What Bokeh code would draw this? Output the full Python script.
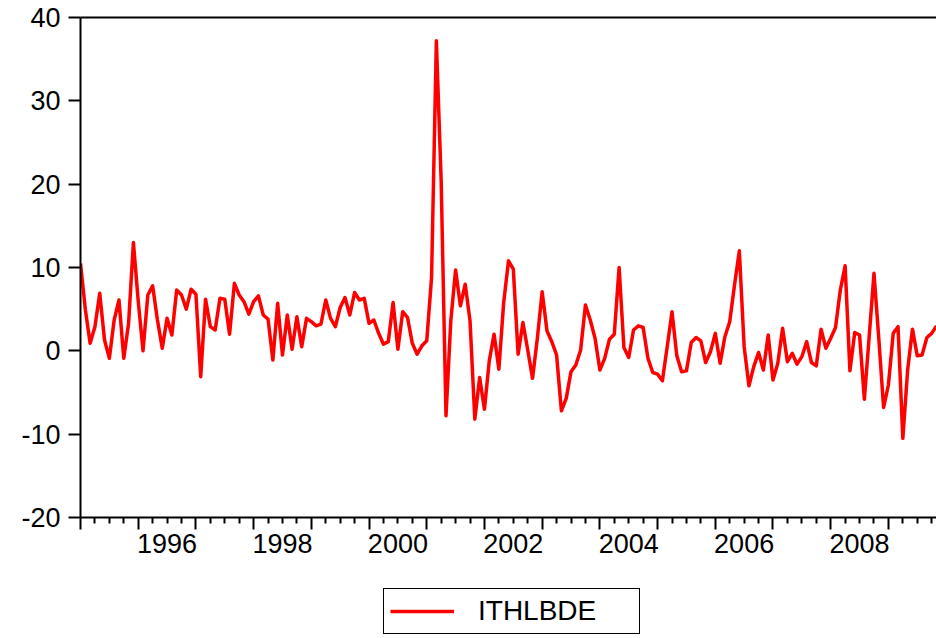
from bokeh.plotting import figure
from bokeh.layouts import column
from bokeh.models import FixedTicker, LinearAxis, Legend, LegendItem, Range1d, ColumnDataSource
from bokeh.embed import file_html
from bokeh.resources import INLINE

# ---- data (monthly, starting January 1995) ----
series_name = "ITHLBDE"
start_year = 1995
values = [
    10.5, 5.0, 0.9, 2.9, 6.9, 1.3, -0.9, 3.7, 6.1, -0.9, 3.3, 13.0,
    6.0, 0.0, 6.7, 7.8, 3.7, 0.3, 3.9, 1.9, 7.3, 6.7, 5.0, 7.4,
    6.8, -3.1, 6.2, 2.9, 2.5, 6.3, 6.2, 2.0, 8.1, 6.7, 5.9, 4.4,
    5.9, 6.6, 4.3, 3.8, -1.1, 5.7, -0.5, 4.3, 0.2, 4.1, 0.5, 3.9,
    3.5, 3.0, 3.2, 6.1, 3.9, 2.9, 5.2, 6.4, 4.3, 7.0, 6.1, 6.3,
    3.3, 3.7, 2.1, 0.8, 1.1, 5.8, 0.2, 4.7, 4.0, 0.9, -0.4, 0.6,
    1.2, 8.8, 37.2, 20.4, -7.8, 3.6, 9.7, 5.4, 8.0, 3.6, -8.2, -3.2,
    -7.0, -1.2, 2.0, -2.2, 5.8, 10.8, 9.8, -0.4, 3.4, 0.1, -3.3, 1.5,
    7.1, 2.4, 1.1, -0.5, -7.2, -5.7, -2.5, -1.7, 0.1, 5.5, 3.7, 1.5,
    -2.3, -0.9, 1.4, 2.0, 10.0, 0.4, -0.8, 2.5, 3.0, 2.8, -0.9, -2.6,
    -2.8, -3.6, 0.5, 4.7, -0.6, -2.5, -2.4, 1.0, 1.6, 1.2, -1.4, -0.1,
    2.1, -1.5, 1.7, 3.5, 7.9, 12.0, 0.5, -4.2, -1.9, -0.2, -2.3, 1.9,
    -3.5, -1.5, 2.7, -1.3, -0.3, -1.6, -0.7, 1.1, -1.4, -1.8, 2.6, 0.3,
    1.5, 2.8, 7.3, 10.2, -2.4, 2.2, 1.9, -5.8, 1.7, 9.3, 1.5, -6.8,
    -4.1, 2.1, 2.9, -10.5, -2.3, 2.6, -0.6, -0.5, 1.6, 2.1, 3.0,
]
tick_years = list(range(1995, 2010))
label_years = [1996, 1998, 2000, 2002, 2004, 2006, 2008]
year_labels = ["1996", "1998", "2000", "2002", "2004", "2006", "2008"]
y_ticks = [-20, -10, 0, 10, 20, 30, 40]
y_labels = ["-20", "-10", "0", "10", "20", "30", "40"]

t = [start_year + i / 12 for i in range(len(values))]
src = ColumnDataSource(dict(t=t, v=values))

FONT = "Liberation Sans"
LINE = dict(line_color="#FF0000", line_width=3.5, line_join="round")

p = figure(frame_width=856, frame_height=500, output_backend="svg", toolbar_location=None,
           x_range=Range1d(t[0], t[-1]), y_range=Range1d(-20, 40),
           min_border_left=80, min_border_right=0, min_border_top=17, min_border_bottom=60,
           background_fill_color="white", border_fill_color="white",
           outline_line_color=None)
p.grid.visible = False

r = p.line("t", "v", source=src, **LINE)

# y axis
ya = p.yaxis[0]
ya.ticker = FixedTicker(ticks=y_ticks)
ya.major_label_overrides = {float(k): s for k, s in zip(y_ticks, y_labels)}
ya.major_tick_out = 12
ya.major_tick_in = 0
ya.minor_tick_out = 0
ya.minor_tick_in = 0
ya.axis_line_width = 2
ya.major_tick_line_width = 2
ya.major_label_standoff = 8
ya.major_label_text_font = FONT
ya.major_label_text_font_size = "27px"
ya.major_label_text_color = "black"

# x axis 1: year ticks (long) + quarter ticks (short), no labels
quarters = [y + q / 4 for y in tick_years for q in (1, 2, 3) if y + q / 4 <= t[-1]]
xa = p.xaxis[0]
xa.ticker = FixedTicker(ticks=tick_years, minor_ticks=quarters)
xa.major_tick_out = 12
xa.major_tick_in = 0
xa.minor_tick_out = 6
xa.minor_tick_in = 0
xa.axis_line_width = 2
xa.major_tick_line_width = 2
xa.minor_tick_line_width = 2
xa.major_label_text_color = None
xa.major_label_standoff = 0

# x axis 2: year labels centred in the year
lab_pos = [y + 0.5 for y in label_years]
xa2 = LinearAxis(ticker=FixedTicker(ticks=lab_pos),
                 major_label_overrides={k: s for k, s in zip(lab_pos, year_labels)},
                 axis_line_color=None, major_tick_line_color=None, minor_tick_line_color=None,
                 major_tick_out=0, major_tick_in=0, minor_tick_out=0, minor_tick_in=0,
                 major_label_standoff=4, major_label_text_font=FONT,
                 major_label_text_font_size="27px", major_label_text_color="black")
p.add_layout(xa2, "below")

# top frame line
top = LinearAxis(ticker=FixedTicker(ticks=tick_years), axis_line_width=2,
                 major_tick_line_color=None, minor_tick_line_color=None,
                 major_tick_out=0, major_tick_in=0, minor_tick_out=0, minor_tick_in=0,
                 major_label_text_color=None, major_label_standoff=0)
p.add_layout(top, "above")

# legend strip below the chart
q = figure(width=936, height=61, output_backend="svg", toolbar_location=None,
           x_range=p.x_range, y_range=p.y_range, x_axis_type=None, y_axis_type=None,
           min_border=0, outline_line_color=None,
           background_fill_color="white", border_fill_color="white")
q.grid.visible = False
r2 = q.line("t", "v", source=src, visible=False, **LINE)

legend = Legend(items=[LegendItem(label=series_name, renderers=[r2])],
                location=(303, 4), orientation="horizontal",
                margin=0, padding=6, glyph_width=64, glyph_height=20,
                label_standoff=24, label_width=155,
                label_text_font=FONT, label_text_font_size="28px", label_text_color="black",
                border_line_color="black", border_line_width=1, border_line_alpha=1.0,
                background_fill_color="white")
q.add_layout(legend, "center")

layout = column(p, q, spacing=0)
open("out.html", "w").write(file_html(layout, INLINE))
